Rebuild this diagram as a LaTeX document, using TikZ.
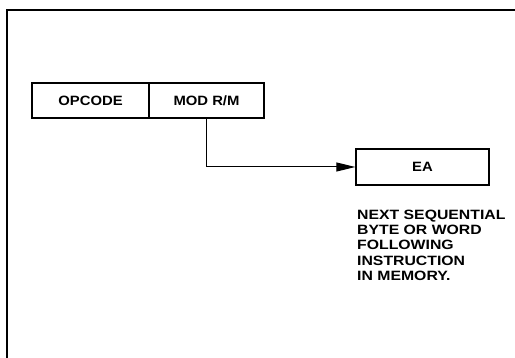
\documentclass[tikz,border=0pt]{standalone}
\usepackage{fontspec}
\setmainfont{Liberation Sans}
\newfontfamily\widefont[FakeStretch=1.17]{Liberation Sans}
\newfontfamily\boxfont[FakeStretch=1.1]{Liberation Sans}
\usetikzlibrary{arrows.meta}
\begin{document}
\begin{tikzpicture}[x=1pt,y=-1pt,
  field/.style={draw,line width=1.3pt,minimum height=35pt,inner sep=0pt,
    font=\boxfont\bfseries\fontsize{13.5}{15}\selectfont},
  note/.style={inner sep=0pt,align=left,anchor=north west,
    font=\widefont\bfseries\fontsize{13.5}{15.3}\selectfont},
  conn/.style={line width=1pt,-{Triangle[length=19pt,width=9pt]}}]
\useasboundingbox (0,0) rectangle (515,358);
\coordinate (ftr) at (515,10);
\coordinate (ftl) at (7,10);
\coordinate (fbl) at (7,358);
\draw[line width=1.8pt] (ftr) -- (ftl) -- (fbl);
\node[field,minimum width=117pt] (op) at (90.5,100.5) {OPCODE};
\node[field,minimum width=115pt] (mod) at (206.5,100.5) {MOD R/M};
\node[field,minimum width=133pt,minimum height=36pt] (ea) at (422.5,167) {EA};
\draw[conn] (mod.south) |- (ea.west);
\node[note] (txt) at (357,209.5) {NEXT SEQUENTIAL\\BYTE OR WORD\\FOLLOWING\\INSTRUCTION\\IN MEMORY.};
\end{tikzpicture}
\end{document}
